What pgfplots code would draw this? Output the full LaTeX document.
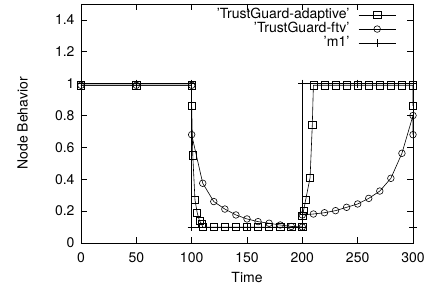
\documentclass[border=0pt]{standalone}
\usepackage{fontspec}
\setmainfont{TeX Gyre Heros}
\usepackage{pgfplots}
\pgfplotsset{compat=1.18}
\begin{document}
\begin{tikzpicture}[font=\fontsize{14bp}{16bp}\selectfont]
\begin{axis}[
  scale only axis, width=332bp, height=239bp,
  xmin=0, xmax=300, ymin=0, ymax=1.5,
  xtick={0,50,...,300}, ytick={0,0.2,...,1.4},
  /pgf/number format/assume math mode=true,
  tick align=inside, xtick pos=both, ytick pos=both,
  major tick length=6bp,
  axis line style={line width=0.8bp},
  every tick/.style={line width=0.6bp, black},
  xticklabel style={yshift=-6bp},
  yticklabel style={xshift=-3bp},
  xlabel={Time}, ylabel={Node Behavior},
  xlabel style={at={(axis description cs:0.5,-0.1464)}, anchor=center},
  ylabel style={at={(axis description cs:-0.176,0.5)}, anchor=center},
  clip=false,
  legend cell align=right, legend plot pos=right,
  legend style={draw=none, fill=none, at={(rel axis cs:0.9488,0.983)}, anchor=north east,
    inner sep=0pt, outer sep=0pt, row sep=0pt, column sep=8bp,
    nodes={inner sep=1bp, text height=9bp, text depth=3bp}},
  legend image code/.code={\draw[mark repeat=2,mark phase=2] plot coordinates {(0bp,0bp) (18.5bp,0bp) (37bp,0bp)};},
]
\addplot[black, line width=0.6bp, mark=square, mark size=3.6bp, mark options={line width=0.6bp}] coordinates {
(0,0.99) (50,0.99) (100,0.99) (100,0.86) (101,0.55) (103,0.27) (105,0.19) (107,0.14) (109,0.12) (110,0.10)
(120,0.10) (130,0.10) (140,0.10) (150,0.10) (160,0.10) (170,0.10) (180,0.10) (190,0.10) (200,0.10)
(200,0.17) (201,0.20) (203,0.27) (207,0.41) (209,0.74) (210,0.99)
(220,0.99) (230,0.99) (240,0.99) (250,0.99) (260,0.99) (270,0.99) (280,0.99) (290,0.99) (300,0.99) (300,0.86)
};
\addlegendentry{'TrustGuard-adaptive'}
\addplot[black, line width=0.6bp, mark=o, mark size=3.3bp, mark options={line width=0.6bp}] coordinates {
(0,0.99) (50,0.99) (100,0.99) (100,0.68) (110,0.375) (120,0.26) (130,0.213) (140,0.176) (150,0.151)
(160,0.134) (170,0.124) (180,0.113) (190,0.104) (200,0.10) (200,0.176) (210,0.182) (220,0.19) (230,0.203)
(240,0.224) (250,0.245) (260,0.28) (270,0.326) (280,0.406) (290,0.563) (300,0.80) (300,0.68)
};
\addlegendentry{'TrustGuard-ftv'}
\addplot[black, line width=0.6bp, mark=+, mark size=4bp, mark options={line width=0.6bp}] coordinates {
(0,1) (50,1) (100,1) (100,0.1) (150,0.1) (200,0.1) (200,1) (250,1) (300,1) (300,0.1)
};
\addlegendentry{'m1'}
\coordinate (O) at (rel axis cs:0,0);
\end{axis}
\pgfresetboundingbox
\path[use as bounding box] ([shift={(-81bp,-48bp)}]O) rectangle ([shift={(358bp,243bp)}]O);
\end{tikzpicture}
\end{document}
